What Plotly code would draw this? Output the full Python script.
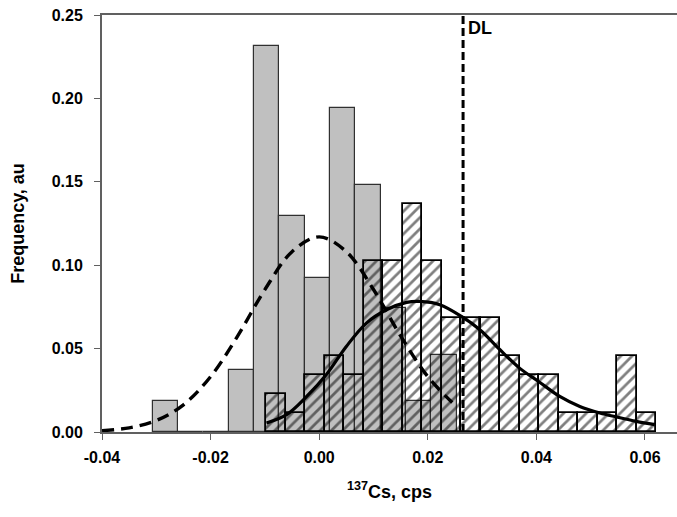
import plotly.graph_objects as go

# ---- data ----
gray_centers = [-0.0283, -0.0237, -0.0190, -0.0143, -0.0097, -0.0050, -0.0003,
                0.0043, 0.0090, 0.0137, 0.0183, 0.0230]
gray_freq = [0.0185, 0.0, 0.0, 0.0370, 0.2315, 0.1296, 0.0926, 0.1944, 0.1481,
             0.0741, 0.0185, 0.0463]
gray_width = 0.00467

hatch_centers = [-0.0080, -0.0044, -0.0008, 0.0028, 0.0064, 0.0100, 0.0136, 0.0172,
                 0.0208, 0.0244, 0.0280, 0.0315, 0.0351, 0.0387, 0.0423, 0.0459,
                 0.0495, 0.0531, 0.0567, 0.0603]
hatch_freq = [0.0227, 0.0114, 0.0341, 0.0455, 0.0341, 0.1023, 0.1023, 0.1364,
              0.1023, 0.0682, 0.0682, 0.0682, 0.0455, 0.0341, 0.0341, 0.0114,
              0.0114, 0.0114, 0.0455, 0.0114]
hatch_width = 0.00359

dash_x = [-0.040, -0.035, -0.030, -0.025, -0.020, -0.015, -0.010, -0.005, 0.000,
          0.005, 0.010, 0.015, 0.020, 0.0245]
dash_y = [0.0008, 0.0025, 0.0069, 0.0163, 0.0332, 0.0576, 0.0854, 0.1081, 0.1170,
          0.1081, 0.0854, 0.0576, 0.0332, 0.0177]

solid_x = [-0.0097, -0.0060, -0.0023, 0.0013, 0.0050, 0.0087, 0.0124, 0.0161,
           0.0185, 0.0222, 0.0262, 0.0296, 0.0333, 0.0369, 0.0404, 0.0443,
           0.0480, 0.0517, 0.0548, 0.0584, 0.0618]
solid_y = [0.0054, 0.0104, 0.0213, 0.0343, 0.0513, 0.0653, 0.0733, 0.0777,
           0.0783, 0.0763, 0.0693, 0.0613, 0.0493, 0.0383, 0.0303, 0.0213,
           0.0153, 0.0114, 0.0090, 0.0064, 0.0044]

dl_x = 0.0265
x_ticks = [-0.04, -0.02, 0.00, 0.02, 0.04, 0.06]
x_ticklabels = ["-0.04", "-0.02", "0.00", "0.02", "0.04", "0.06"]
y_ticks = [0.00, 0.05, 0.10, 0.15, 0.20, 0.25]
y_ticklabels = ["0.00", "0.05", "0.10", "0.15", "0.20", "0.25"]

FONT = "Liberation Sans, Arial, sans-serif"

fig = go.Figure()
fig.add_trace(go.Bar(
    x=gray_centers, y=gray_freq, width=gray_width,
    marker=dict(color="#c0c0c0", line=dict(color="#303030", width=1.2)),
    showlegend=False))
fig.add_trace(go.Bar(
    x=hatch_centers, y=hatch_freq, width=hatch_width,
    marker=dict(color="rgba(0,0,0,0)", line=dict(color="black", width=1.8),
                pattern=dict(shape="/", fgcolor="black", bgcolor="rgba(0,0,0,0)",
                             size=8, solidity=0.34, fillmode="overlay")),
    showlegend=False))
fig.add_trace(go.Scatter(
    x=dash_x, y=dash_y, mode="lines", line=dict(color="black", width=3.4,
                                                dash="12px,7px", shape="spline"),
    showlegend=False))
fig.add_trace(go.Scatter(
    x=solid_x, y=solid_y, mode="lines", line=dict(color="black", width=3.2,
                                                  shape="spline"),
    showlegend=False))

fig.add_shape(type="line", x0=dl_x, x1=dl_x, y0=0, y1=0.25, xref="x", yref="y",
              line=dict(color="black", width=3, dash="8px,4px"))
fig.add_annotation(x=dl_x, y=0.25, xref="x", yref="y", text="<b>DL</b>",
                   showarrow=False, xanchor="left", yanchor="top", xshift=3,
                   yshift=-1, font=dict(family=FONT, size=18, color="black"))

fig.update_layout(
    width=677, height=517,
    margin=dict(l=102, r=0, t=15, b=85),
    paper_bgcolor="white", plot_bgcolor="white",
    barmode="overlay", bargap=0,
    font=dict(family=FONT, color="black"),
    xaxis=dict(range=[-0.04, 0.0659], tickvals=x_ticks, ticktext=x_ticklabels,
               ticks="outside", ticklen=6, tickwidth=1.2, tickcolor="#606060",
               showline=True, linecolor="#606060", linewidth=2, mirror=True,
               showgrid=False, zeroline=False, ticklabelstandoff=4,
               tickfont=dict(family=FONT, size=16, weight="bold"),
               title=dict(text="<sup>137</sup>Cs, cps", standoff=20,
                          font=dict(family=FONT, size=18, weight="bold"))),
    yaxis=dict(range=[0, 0.25], tickvals=y_ticks, ticktext=y_ticklabels,
               ticks="outside", ticklen=6, tickwidth=1.2, tickcolor="#606060",
               showline=True, linecolor="#606060", linewidth=2,
               showgrid=False, zeroline=False, ticklabelstandoff=8,
               tickfont=dict(family=FONT, size=16, weight="bold"),
               title=dict(text="Frequency, au", standoff=22,
                          font=dict(family=FONT, size=18, weight="bold"))),
)

fig.write_html("out.html")
